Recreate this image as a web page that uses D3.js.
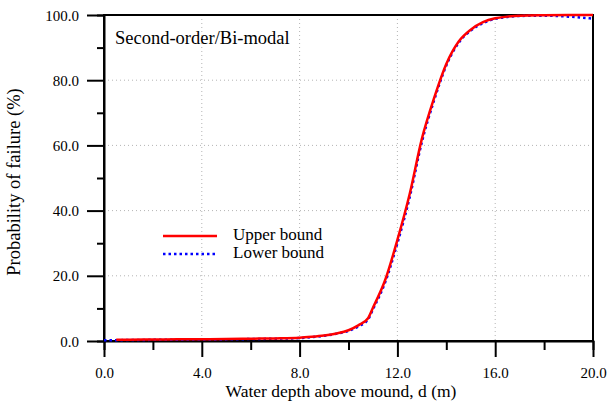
<!DOCTYPE html>
<html>
<head>
<meta charset="utf-8">
<script src="https://cdn.jsdelivr.net/npm/d3@7"></script>
</head>
<body style="margin: 0; background: #fff;">
<svg width="608" height="403"></svg>
<script>
const depth = [0, 0.5, 1, 2, 3, 4, 5, 6, 7, 8, 8.5, 9, 9.5, 10, 10.4, 10.8, 11, 11.5, 12, 12.5, 13, 13.5, 14, 14.5, 15, 15.5, 16, 16.5, 17, 18, 19, 20];
const upperBound = [0.3, 0.35, 0.4, 0.45, 0.5, 0.55, 0.6, 0.7, 0.8, 1.0, 1.3, 1.7, 2.3, 3.3, 4.8, 7.0, 10.2, 18.7, 31, 45, 62, 74.5, 85, 91.8, 95.5, 97.8, 99, 99.5, 99.8, 99.95, 100, 100];
const lowerBound = [0.2, 0.25, 0.3, 0.35, 0.4, 0.45, 0.5, 0.6, 0.7, 0.9, 1.2, 1.6, 2.2, 3.1, 4.5, 6.6, 9.7, 18.0, 30, 44, 61, 73.8, 84.5, 91.4, 95.2, 97.5, 98.8, 99.4, 99.7, 99.8, 99.5, 98.9];
const xTicks = [0, 4, 8, 12, 16, 20];
const yTicks = [0, 20, 40, 60, 80, 100];

const FONT = "Liberation Serif";

const svg = d3.select("svg");

const area = { left: 104, right: 593, top: 15, bottom: 341 };

const scX = d3.scaleLinear().domain([0, 20]).range([area.left, area.right]);
const scY = d3.scaleLinear().domain([0, 100]).range([area.bottom, area.top]);

// grid
svg.append("g")
    .selectAll("line")
    .data(xTicks.slice(1, -1))
    .enter()
    .append("line")
    .attr("x1", d => scX(d)).attr("x2", d => scX(d))
    .attr("y1", area.top).attr("y2", area.bottom)
    .attr("stroke", "#b4b4b4")
    .attr("stroke-dasharray", "1,3");

svg.append("g")
    .selectAll("line")
    .data(yTicks.slice(1, -1))
    .enter()
    .append("line")
    .attr("x1", area.left).attr("x2", area.right)
    .attr("y1", d => scY(d)).attr("y2", d => scY(d))
    .attr("stroke", "#b4b4b4")
    .attr("stroke-dasharray", "1,3");

// axes
const axisX = d3.axisBottom(scX)
    .tickValues(d3.range(0, 20.1, 2))
    .tickSize(9)
    .tickFormat(d => d % 4 === 0 ? d3.format(".1f")(d) : "");

const gx = svg.append("g")
    .attr("transform", `translate(0, ${area.bottom})`)
    .call(axisX);
gx.selectAll(".tick line")
    .attr("y2", d => d % 4 === 0 ? 16 : 9);
gx.selectAll(".tick text")
    .attr("y", 37)
    .attr("dy", null);

const axisY = d3.axisLeft(scY)
    .tickValues(d3.range(0, 100.1, 10))
    .tickSize(7)
    .tickFormat(d => d % 20 === 0 ? d3.format(".1f")(d) : "");

const gy = svg.append("g")
    .attr("transform", `translate(${area.left}, 0)`)
    .call(axisY);
gy.selectAll(".tick line")
    .attr("x2", d => d % 20 === 0 ? -17 : -7);
gy.selectAll(".tick text")
    .attr("x", -25)
    .attr("dy", "0.34em");

svg.selectAll(".domain").attr("stroke-width", 2);
svg.selectAll(".tick line").attr("stroke-width", 2);
svg.selectAll(".tick text")
    .attr("fill", "#000")
    .style("font-family", FONT)
    .style("font-size", "15px");

// frame
svg.append("rect")
    .attr("x", area.left).attr("y", area.top)
    .attr("width", area.right - area.left)
    .attr("height", area.bottom - area.top)
    .attr("fill", "none")
    .attr("stroke", "#000")
    .attr("stroke-width", 2);

// curves
const line = d3.line()
    .curve(d3.curveMonotoneX)
    .x(d => scX(d[0]))
    .y(d => scY(d[1]));

svg.append("path")
    .datum(depth.map((d, i) => [d, lowerBound[i]]))
    .attr("fill", "none")
    .attr("stroke", "#0000ff")
    .attr("stroke-width", 2.5)
    .attr("stroke-dasharray", "2.5,3")
    .attr("d", line);

svg.append("path")
    .datum(depth.map((d, i) => [d, upperBound[i]]).filter(d => d[0] > 0))
    .attr("fill", "none")
    .attr("stroke", "#ff0000")
    .attr("stroke-width", 2.5)
    .attr("d", line);

// annotation
svg.append("text")
    .attr("x", 115).attr("y", 44)
    .style("font-family", FONT)
    .style("font-size", "18.5px")
    .text("Second-order/Bi-modal");

// legend
const legend = svg.append("g");
legend.append("line")
    .attr("x1", 163).attr("x2", 217).attr("y1", 236).attr("y2", 236)
    .attr("stroke", "#ff0000").attr("stroke-width", 2.5);
legend.append("line")
    .attr("x1", 163).attr("x2", 217).attr("y1", 254).attr("y2", 254)
    .attr("stroke", "#0000ff").attr("stroke-width", 2.5)
    .attr("stroke-dasharray", "2.5,3");
legend.append("text")
    .attr("x", 233).attr("y", 240)
    .style("font-family", FONT)
    .style("font-size", "17px")
    .text("Upper bound");
legend.append("text")
    .attr("x", 233).attr("y", 258)
    .style("font-family", FONT)
    .style("font-size", "17px")
    .text("Lower bound");

// axis titles
svg.append("text")
    .attr("x", 341)
    .attr("y", 397)
    .attr("text-anchor", "middle")
    .style("font-family", FONT)
    .style("font-size", "17.5px")
    .text("Water depth above mound, d (m)");

svg.append("text")
    .attr("transform", "translate(20, 182) rotate(-90)")
    .attr("text-anchor", "middle")
    .style("font-family", FONT)
    .style("font-size", "18.5px")
    .text("Probability of failure (%)");
</script>
</body>
</html>
